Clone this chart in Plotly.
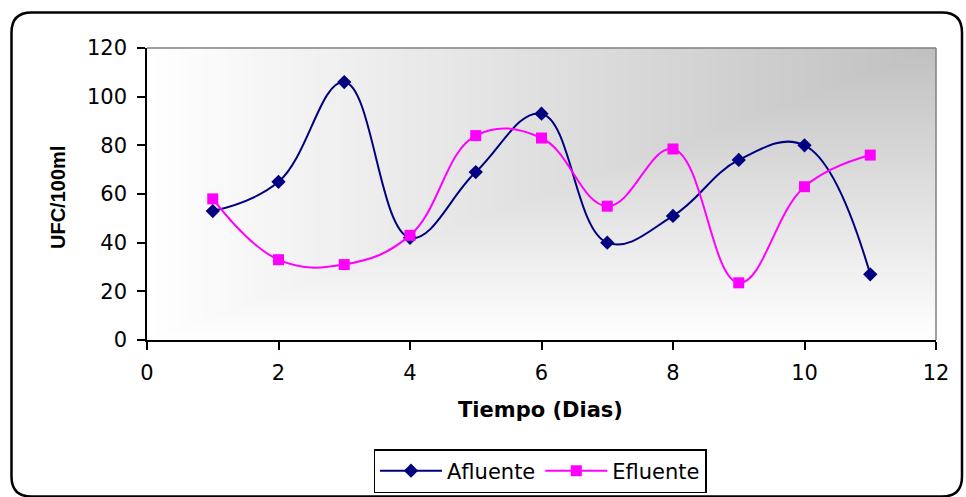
import numpy as np
import plotly.graph_objects as go

# Sampling days and bacterial counts (UFC/100ml)
dias = [1, 2, 3, 4, 5, 6, 7, 8, 9, 10, 11]
afluente = [53, 65, 106, 42, 69, 93, 40, 51, 74, 80, 27]
efluente = [58, 33, 31, 43, 84, 83, 55, 78.5, 23.5, 63, 76]

x_ticks = [0, 2, 4, 6, 8, 10, 12]
y_ticks = [0, 20, 40, 60, 80, 100, 120]

W, H = 966, 497
ML, MR, MT, MB = 147, 30, 48, 157
PW, PH = W - ML - MR, H - MT - MB

TXT = "DejaVu Sans, Arial, sans-serif"


def px2paper(px, py):
    return (px - ML) / PW, (MT + PH - py) / PH


# Corner-style gradient backdrop for the plot area (white -> grey toward top-right)
nx, ny = 240, 120
gx = np.linspace(0, 12, nx + 1)
gy = np.linspace(0, 120, ny + 1)
u = (np.arange(nx) + 0.5) / nx
v = (np.arange(ny) + 0.5) / ny
shade = np.minimum(u[None, :], v[:, None])

fig = go.Figure()
fig.add_trace(go.Heatmap(
    x=gx, y=gy, z=shade, zmin=0, zmax=1,
    colorscale=[[0, "#ffffff"], [1, "#c0c0c0"]],
    showscale=False, hoverinfo="skip", zsmooth=False,
    showlegend=False,
))

fig.add_trace(go.Scatter(
    x=dias, y=afluente, name="Afluente", mode="lines+markers",
    line=dict(color="#000080", width=2, shape="spline", smoothing=1.15),
    marker=dict(symbol="diamond", size=11, color="#000080"),
))
fig.add_trace(go.Scatter(
    x=dias, y=efluente, name="Efluente", mode="lines+markers",
    line=dict(color="#ff00ff", width=2, shape="spline", smoothing=1.15),
    marker=dict(symbol="square", size=11, color="#ff00ff"),
))

axis_common = dict(
    showline=True, linecolor="black", linewidth=1.5,
    ticks="outside", ticklen=8, tickwidth=1.5, tickcolor="black",
    showgrid=False, zeroline=False, automargin=False,
    tickfont=dict(family=TXT, size=21, color="black"),
)

fig.update_xaxes(range=[0, 12], tickvals=x_ticks, ticklabelstandoff=5, **axis_common)
fig.update_yaxes(range=[0, 120], tickvals=y_ticks, ticklabelstandoff=6, **axis_common)

# Outer rounded frame
r = 20
L, T, R, B = 11.5, 12.5, 962, 496.5
pts = [
    ("M", (L + r, T)), ("L", (R - r, T)), ("Q", (R, T), (R, T + r)),
    ("L", (R, B - r)), ("Q", (R, B), (R - r, B)),
    ("L", (L + r, B)), ("Q", (L, B), (L, B - r)),
    ("L", (L, T + r)), ("Q", (L, T), (L + r, T)),
]
path = ""
for item in pts:
    cmd = item[0]
    coords = " ".join("%.5f,%.5f" % px2paper(*p) for p in item[1:])
    path += cmd + coords + " "
path += "Z"

shapes = [
    dict(type="path", xref="paper", yref="paper", path=path,
         line=dict(color="black", width=2.5), layer="above"),
    # grey top and right edges of the plot area
    dict(type="line", xref="paper", yref="paper", x0=0, x1=1, y0=1, y1=1,
         line=dict(color="#808080", width=1.5), layer="above"),
    dict(type="line", xref="paper", yref="paper", x0=1, x1=1, y0=0, y1=1,
         line=dict(color="#808080", width=1.5), layer="above"),
]

xt_x, xt_y = px2paper(540, 410)
yt_x, yt_y = px2paper(58, 198)
annotations = [
    dict(text="<b>Tiempo (Dias)</b>", xref="paper", yref="paper",
         x=xt_x, y=xt_y, xanchor="center", yanchor="middle", showarrow=False,
         font=dict(family=TXT, size=21, color="black")),
    dict(text="<b>UFC/100ml</b>", xref="paper", yref="paper",
         x=yt_x, y=yt_y, xanchor="center", yanchor="middle", showarrow=False,
         textangle=-90,
         font=dict(family="Liberation Sans, Arial, sans-serif", size=20, color="black")),
]

lg_x, lg_y = px2paper(540, 493)
fig.update_layout(
    width=W, height=H,
    margin=dict(l=ML, r=MR, t=MT, b=MB, autoexpand=False),
    paper_bgcolor="white", plot_bgcolor="white",
    shapes=shapes, annotations=annotations,
    showlegend=True,
    legend=dict(
        orientation="h", x=lg_x, y=lg_y, xanchor="center", yanchor="bottom",
        bordercolor="black", borderwidth=1.5, bgcolor="white",
        itemwidth=62,
        font=dict(family=TXT, size=21, color="black"),
    ),
)

fig.write_html("out.html")
